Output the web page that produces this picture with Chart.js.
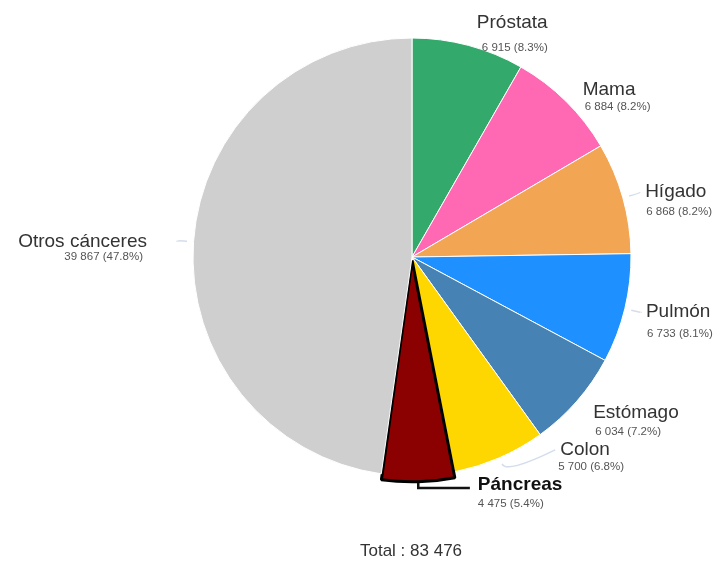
<!DOCTYPE html>
<html>
<head>
<meta charset="utf-8">
<script src="https://cdn.jsdelivr.net/npm/chart.js@4"></script>
<style>
  html, body { margin: 0; padding: 0; background: #ffffff; }
  canvas { display: block; }
</style>
</head>
<body>
<canvas id="chart" width="723" height="562"></canvas>
<script>
// Cancer cases by site
const categories = ['Próstata', 'Mama', 'Hígado', 'Pulmón', 'Estómago', 'Colon', 'Páncreas', 'Otros cánceres'];
const cases = [6915, 6884, 6868, 6733, 6034, 5700, 4475, 39867];
const sliceColors = ['#34A96C', '#FF69B4', '#F2A552', '#1E90FF', '#4682B4', '#FFD700', '#8B0000', '#CFCFCF'];
const highlighted = 'Páncreas';

// Label placement: angular shift from the slice middle (degrees), distance in radii,
// offset of the value line below the name, and whether a connector is drawn.
const labelLayout = [
  { shift: 0.9,   dist: 1.087, vdx: 5,  vdy: 23, leader: false },
  { shift: 1.8,   dist: 1.075, vdx: 2,  vdy: 15, leader: false },
  { shift: 1.3,   dist: 1.099, vdx: 1,  vdy: 18, leader: true },
  { shift: 0.8,   dist: 1.103, vdx: 1,  vdy: 20, leader: true },
  { shift: 0.4,   dist: 1.106, vdx: 2,  vdy: 17, leader: false },
  { shift: -13.3, dist: 1.129, vdx: -2, vdy: 15, leader: true },
  { shift: -14.2, dist: 1.106, vdx: 0,  vdy: 17, leader: true },
  { shift: -1.8,  dist: 1.211, vdx: -4, vdy: 13, leader: true, align: 'right' }
];

const total = cases.reduce((a, b) => a + b, 0);
const fmt = n => String(n).replace(/\B(?=(\d{3})+(?!\d))/g, ' ');
const pct = n => (n / total * 100).toFixed(1) + '%';

const FONT = '"Liberation Sans", Arial, sans-serif';

const pieLabels = {
  id: 'pieLabels',
  afterDraw(chart) {
    const ctx = chart.ctx;
    const meta = chart.getDatasetMeta(0);
    meta.data.forEach((arc, i) => {
      const { x, y, startAngle, endAngle, outerRadius } = arc.getProps(['x', 'y', 'startAngle', 'endAngle', 'outerRadius'], true);
      const R = outerRadius;
      const mid = (startAngle + endAngle) / 2;
      const lay = labelLayout[i];
      const la = mid + lay.shift * Math.PI / 180;
      const ax = x + Math.cos(la) * R * lay.dist;
      const ay = y + Math.sin(la) * R * lay.dist;
      const right = lay.align === 'right';
      const isHi = categories[i] === highlighted;

      ctx.save();
      if (isHi) {
        // elbow connector for the highlighted slice
        const r0 = R + 8;
        const sx = x + Math.cos(mid) * r0;
        const sy = y + Math.sin(mid) * r0;
        ctx.strokeStyle = '#111';
        ctx.lineWidth = 2.5;
        ctx.beginPath();
        ctx.moveTo(sx, sy - 1);
        ctx.lineTo(sx, ay - 2);
        ctx.lineTo(ax - 8, ay - 2);
        ctx.stroke();
      } else if (lay.leader) {
        const s = R * 1.03;
        const sx = x + Math.cos(mid) * s;
        const sy = y + Math.sin(mid) * s;
        const ex = right ? ax + 30 : ax - 5;
        const ey = ay - 5;
        const cx = x + Math.cos(mid) * R * 1.08;
        const cy = y + Math.sin(mid) * R * 1.08;
        ctx.strokeStyle = 'rgba(205, 215, 232, 0.85)';
        ctx.lineWidth = 1.5;
        ctx.beginPath();
        ctx.moveTo(sx, sy);
        ctx.quadraticCurveTo(cx, cy, ex, ey);
        ctx.stroke();
      }

      ctx.textAlign = right ? 'right' : 'left';
      ctx.textBaseline = 'alphabetic';
      ctx.fillStyle = isHi ? '#111' : '#333';
      ctx.font = (isHi ? 'bold ' : '') + '19px ' + FONT;
      ctx.fillText(categories[i], ax, ay);
      ctx.fillStyle = '#555';
      ctx.font = '11.5px ' + FONT;
      ctx.fillText(fmt(cases[i]) + ' (' + pct(cases[i]) + ')', ax + lay.vdx, ay + lay.vdy);
      ctx.restore();
    });

    const first = meta.data[0];
    ctx.save();
    ctx.fillStyle = '#333';
    ctx.font = '17px ' + FONT;
    ctx.textAlign = 'center';
    ctx.textBaseline = 'alphabetic';
    ctx.fillText('Total : ' + fmt(total), first.x - 1, chart.height - 6);
    ctx.restore();
  }
};

new Chart(document.getElementById('chart'), {
  type: 'pie',
  data: {
    labels: categories,
    datasets: [{
      data: cases,
      backgroundColor: sliceColors,
      borderColor: categories.map(c => c === highlighted ? '#000000' : '#ffffff'),
      borderWidth: categories.map(c => c === highlighted ? 3 : 1),
      offset: categories.map(c => c === highlighted ? 14 : 0)
    }]
  },
  options: {
    responsive: false,
    animation: false,
    radius: 219,
    layout: { padding: { left: 101, right: 0, top: 0, bottom: 48 } },
    plugins: {
      legend: { display: false },
      tooltip: { enabled: false },
      title: { display: false }
    }
  },
  plugins: [pieLabels]
});
</script>
</body>
</html>
